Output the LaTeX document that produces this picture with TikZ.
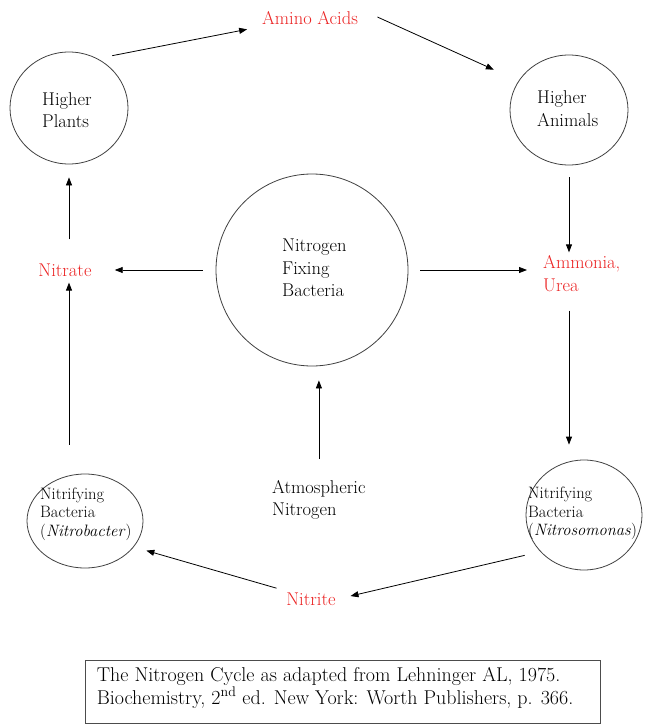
\documentclass[tikz,border=0pt]{standalone}
\usepackage{fontspec}
\usetikzlibrary{shapes.geometric,arrows.meta,calc}
\definecolor{lab}{RGB}{235,35,35}
\begin{document}
\begin{tikzpicture}[x=1pt,y=-1pt,
  circ/.style={ellipse,draw=black!75,line width=0.8pt,inner sep=0pt},
  bigtext/.style={font=\fontsize{18.5}{22.5}\selectfont,align=left,inner sep=2pt},
  smalltext/.style={font=\fontsize{16.5}{18.5}\selectfont,align=left,inner sep=2pt},
  redlab/.style={bigtext,text=lab},
  arr/.style={-{Triangle[length=8pt,width=6pt]},line width=0.8pt}
]
\useasboundingbox (0,0) rectangle (645,725);

% circles
\node[circ,minimum width=118,minimum height=112] (hp) at (69,108) {};
\node[bigtext,anchor=west] (hpt) at (40,110) {Higher\\Plants};
\node[circ,minimum width=118,minimum height=110] (ha) at (569,110) {};
\node[bigtext,anchor=west] (hat) at (535,108.5) {Higher\\Animals};
\node[circ,minimum width=192,minimum height=192] (nfb) at (312,270) {};
\node[bigtext,anchor=west] (nfbt) at (280,268) {Nitrogen\\Fixing\\Bacteria};
\node[circ,minimum width=116,minimum height=94] (nb) at (85,521) {};
\node[smalltext,anchor=west] (nbt) at (38,514) {Nitrifying\\Bacteria\\(\textit{Nitrobacter})};
\node[circ,minimum width=116,minimum height=110] (ns) at (584,515) {};
\node[smalltext,anchor=west] (nst) at (526,513.5) {Nitrifying\\Bacteria\\(\textit{Nitrosomonas})};

% labels
\node[redlab] (aa) at (310,18) {Amino Acids};
\node[redlab] (nitrate) at (65,270) {Nitrate};
\node[redlab,anchor=west] (amm) at (541,273.5) {Ammonia,\\Urea};
\node[redlab] (nitrite) at (311,599) {Nitrite};
\node[bigtext,anchor=west] (atm) at (270,500) {Atmospheric\\Nitrogen};

% arrows
\draw[arr,shorten <=15pt,shorten >=13pt] (hp.60) -- (aa.south west);
\draw[arr,shorten <=19pt,shorten >=27pt] (aa.north east) -- (ha.150);
\draw[arr,shorten <=12pt,shorten >=1pt] (ha.south) -- (ha.south |- amm.north);
\draw[arr,shorten <=17pt,shorten >=15pt] (ha.south |- amm.south) -- (ha.south |- ns.north);
\draw[arr,shorten <=16pt,shorten >=13pt] (ns.220) -- (nitrite.east);
\draw[arr,shorten <=8pt,shorten >=13pt] (nitrite.north west) -- (nb.-28);
\draw[arr,shorten <=29pt,shorten >=4pt] (hp.south |- nb.north) -- (hp.south |- nitrate.south);
\draw[arr,shorten <=22pt,shorten >=13pt] (hp.south |- nitrate.north) -- (hp.south);
\draw[arr,shorten <=13pt,shorten >=21pt] (nfb.west) -- (nitrate.east);
\draw[arr,shorten <=12pt,shorten >=14pt] (nfb.east) -- (nfb.east -| amm.west);
\draw[arr,shorten <=19pt,shorten >=14pt] (atm.north) -- (atm.north |- nfb.south);

% caption
\node[draw=black!70,line width=0.8pt,minimum width=515,minimum height=63,inner sep=0pt] (capbox) at (342.5,691.5) {};
\node[anchor=north west,font=\fontsize{20}{21}\selectfont,align=left,inner sep=0pt] (captext) at ([shift={(12,8)}]capbox.north west)
  {The Nitrogen Cycle as adapted from Lehninger AL, 1975.\\Biochemistry, 2\textsuperscript{nd} ed. New York: Worth Publishers, p. 366.};
\end{tikzpicture}
\end{document}
